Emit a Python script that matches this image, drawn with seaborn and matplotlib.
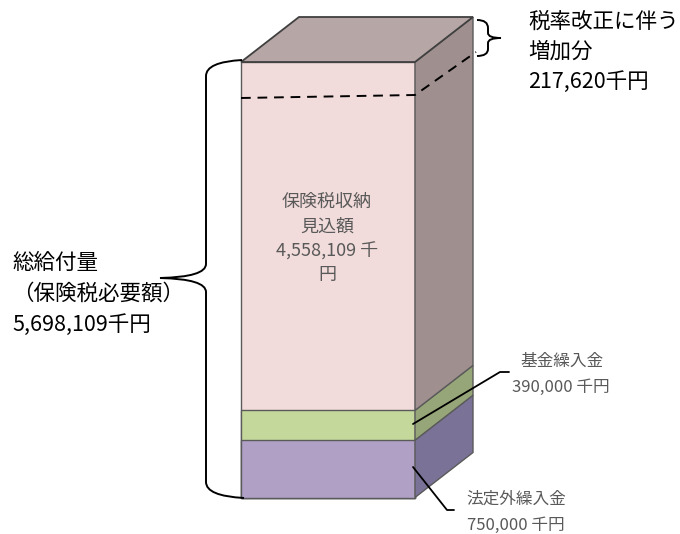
import numpy as np
import matplotlib
matplotlib.use("Agg")
import matplotlib.pyplot as plt
from matplotlib.patches import Polygon, PathPatch
from matplotlib.path import Path
import seaborn as sns

# Funding layers, bottom to top (thousand yen)
layers = ["法定外繰入金", "基金繰入金", "保険税収納見込額"]
amounts = [750000, 390000, 4558109]
total_amount = 5698109
increase_amount = 217620

front_colors = ["#b1a0c6", "#c4d89b", "#f2dcdb"]
side_colors = ["#7b7297", "#96a678", "#a08f8f"]
top_color = "#b6a6a6"
edge_gray = "#5a5a5a"
label_gray = "#595959"

sns.set_theme(style="white")
plt.rcParams["font.family"] = ["Noto Sans CJK JP", "DejaVu Sans"]

W, H = 680, 534
fig = plt.figure(figsize=(W / 100, H / 100), dpi=100)
ax = fig.add_axes([0, 0, 1, 1])

# Front face placement on the canvas
left_px, right_px = 241, 415
top_px, base_px = 62, 497.5
unit_px = (right_px - left_px) / 0.8
per_px = total_amount / (base_px - top_px)

cum = np.cumsum(amounts)
bottoms = np.concatenate([[0], cum[:-1]])

# Stacked front face: cumulative bars drawn from the tallest down
for i in reversed(range(len(amounts))):
    sns.barplot(x=["box"], y=[cum[i]], color=front_colors[i], saturation=1,
                width=0.8, edgecolor=edge_gray, linewidth=1.0, ax=ax, zorder=2)

ax.set_xlim(-0.4 - left_px / unit_px, 0.4 + (W - right_px) / unit_px)
ax.set_ylim(-(H - base_px) * per_px, total_amount + top_px * per_px)
ax.axis("off")

# Depth of the box
DX = 58 / unit_px
DY = 45 * per_px

for b, t, c in zip(bottoms, cum, side_colors):
    ax.add_patch(Polygon([(0.4, b), (0.4 + DX, b + DY), (0.4 + DX, t + DY), (0.4, t)],
                         closed=True, facecolor=c, edgecolor=edge_gray, lw=1.0, zorder=3))

T = cum[-1]
ax.add_patch(Polygon([(-0.4, T), (0.4, T), (0.4 + DX, T + DY), (-0.4 + DX, T + DY)],
                     closed=True, facecolor=top_color, edgecolor="#404040", lw=1.3, zorder=4))

# Overlay in pixel coordinates for braces, guides and labels
ov = fig.add_axes([0, 0, 1, 1])
ov.set_xlim(0, W)
ov.set_ylim(H, 0)
ov.axis("off")
ov.patch.set_alpha(0)


def brace(points, codes):
    ov.add_patch(PathPatch(Path(points, codes), facecolor="none",
                           edgecolor="black", lw=1.4, zorder=5))


M, L, C = Path.MOVETO, Path.LINETO, Path.CURVE3

# Left brace spanning the full box
brace([(242, 60), (206, 62), (206, 76),
       (206, 264),
       (206, 277), (160, 278),
       (206, 279), (206, 292),
       (206, 482),
       (206, 496), (244, 498)],
      [M, C, C, L, C, C, C, C, L, C, C])

# Small brace for the tax-rate increase
brace([(477, 20), (488, 20), (488, 28),
       (488, 33),
       (488, 38), (501, 38),
       (488, 38), (488, 43),
       (488, 49),
       (488, 56), (477, 56)],
      [M, C, C, L, C, C, C, C, L, C, C])

# Dashed boundary of the increase
ov.plot([241, 415, 476], [98, 95, 52], color="black", lw=1.4,
        dashes=(5, 3.5), zorder=6)

# Leader lines
ov.plot([413, 500, 509], [424, 372, 372], color="black", lw=1.3, zorder=6)
ov.plot([413, 447, 454], [467, 510, 510], color="black", lw=1.3, zorder=6)

# Labels
for y, s in zip([22, 52, 82], ["税率改正に伴う", "増加分", f"{increase_amount:,}千円"]):
    ov.text(528, y, s, fontsize=15.5, color="black", ha="left", va="center", zorder=7)

for y, s in zip([263, 294, 325], ["総給付量", "（保険税必要額）", f"{total_amount:,}千円"]):
    ov.text(12, y, s, fontsize=15.5, color="black", ha="left", va="center", zorder=7)

for y, s in zip([202, 227, 251, 275], ["保険税収納", "見込額", f"{amounts[2]:,} 千", "円"]):
    ov.text(327, y, s, fontsize=13, color=label_gray, ha="center", va="center", zorder=7)

ov.text(562, 361, layers[1], fontsize=12, color=label_gray, ha="center", va="center", zorder=7)
ov.text(561, 387, f"{amounts[1]:,} 千円", fontsize=12, color=label_gray,
        ha="center", va="center", zorder=7)
ov.text(516, 499, layers[0], fontsize=12, color=label_gray, ha="center", va="center", zorder=7)
ov.text(516, 525, f"{amounts[0]:,} 千円", fontsize=12, color=label_gray,
        ha="center", va="center", zorder=7)

fig.savefig("out.png", dpi=100)
